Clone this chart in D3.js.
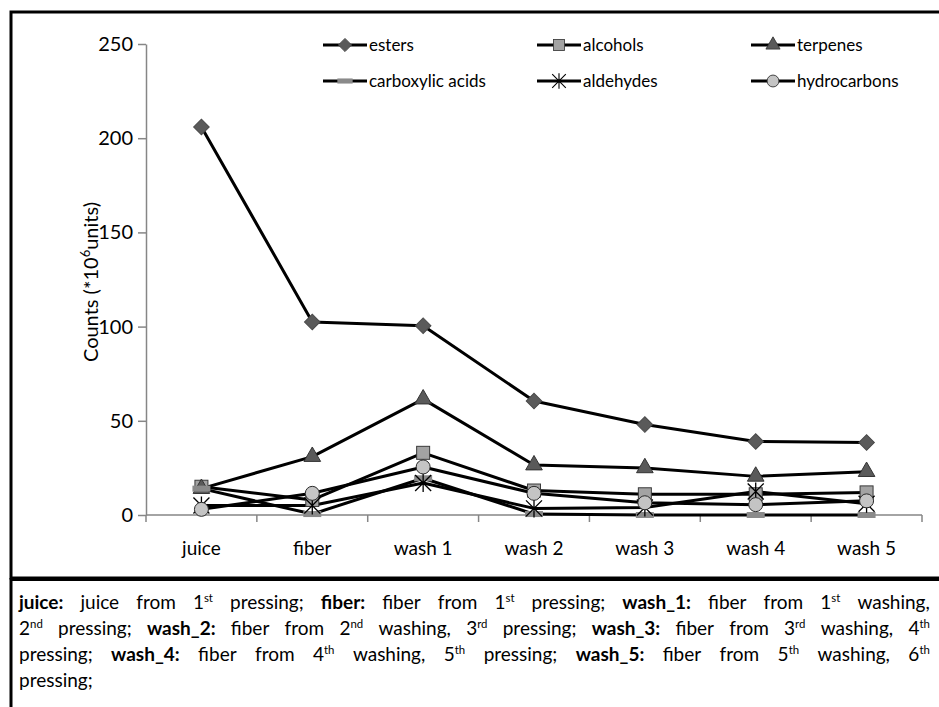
<!DOCTYPE html>
<html>
<head>
<meta charset="utf-8">
<title>Counts by fraction</title>
<script src="https://cdn.jsdelivr.net/npm/d3@7"></script>
<style>
    body { margin:0; background:#fff; font-family: Lato, 'Open Sans', sans-serif; }
    #wrap { position:relative; width:939px; height:707px; overflow:hidden; }
    svg { position:absolute; left:0; top:0; }
    .axis path, .axis line { stroke:#868686; stroke-width:1.5px; }
    .axis text { font-family: Lato, sans-serif; fill:#000; }
    .legend text { font-size:17px; fill:#000; }
    .caption { position:absolute; left:19px; top:589px; width:911px; font-size:19px; color:#000; }
    .caption .ln { display:flex; justify-content:space-between; height:26px; line-height:26px; white-space:nowrap; }
    .caption .ln.last { justify-content:flex-start; }
    .caption sup { font-size:0.6em; vertical-align:0.6em; line-height:0; }
</style>
</head>
<body>
<div id="wrap"></div>
<script>

    var width = 939,
        height = 707;

    // data
    var categories = ["juice", "fiber", "wash 1", "wash 2", "wash 3", "wash 4", "wash 5"];
    var esters          = [206, 102.5, 100.5, 60.5, 48, 39, 38.5];
    var alcohols        = [15, 8, 33, 13, 11, 11, 12];
    var terpenes        = [14, 31, 61.5, 26.5, 25, 20.5, 23];
    var carboxylicAcids = [14, 0.5, 19.5, 0.5, 0, 0, 0];
    var aldehydes       = [5, 5, 17, 3.5, 4, 12.5, 6];
    var hydrocarbons    = [3, 11.5, 25.5, 11.5, 6.5, 5.5, 7.5];
    var yTicks = [0, 50, 100, 150, 200, 250];

    var series = [
        {name: "esters", values: esters, marker: "diamond"},
        {name: "alcohols", values: alcohols, marker: "square"},
        {name: "terpenes", values: terpenes, marker: "triangle"},
        {name: "carboxylic acids", values: carboxylicAcids, marker: "dash"},
        {name: "aldehydes", values: aldehydes, marker: "star"},
        {name: "hydrocarbons", values: hydrocarbons, marker: "circle"}
    ];

    // caption: *bold*, ^superscript
    var captionLines = [
        "*juice:* juice from 1^st pressing; *fiber:* fiber from 1^st pressing; *wash_1:* fiber from 1^st washing,",
        "2^nd pressing; *wash_2:* fiber from 2^nd washing, 3^rd pressing; *wash_3:* fiber from 3^rd washing, 4^th",
        "pressing; *wash_4:* fiber from 4^th washing, 5^th pressing; *wash_5:* fiber from 5^th washing, 6^th",
        "pressing;"
    ];

    var wrap = d3.select("#wrap");
    var svg = wrap.append("svg")
        .attr("width", width)
        .attr("height", height);

    var x = d3.scaleBand().domain(categories).range([146, 922]);
    var y = d3.scaleLinear().domain([0, 250]).range([515, 44]);

    // frame
    svg.append("rect")
        .attr("x", 11).attr("y", 12)
        .attr("width", 940).attr("height", 566)
        .attr("fill", "none").attr("stroke", "#000").attr("stroke-width", 3);
    svg.append("line")
        .attr("x1", 11).attr("x2", 939).attr("y1", 579).attr("y2", 579)
        .attr("stroke", "#000").attr("stroke-width", 4);
    svg.append("line")
        .attr("x1", 11).attr("x2", 11).attr("y1", 578).attr("y2", 707)
        .attr("stroke", "#000").attr("stroke-width", 3);

    // axes
    var yAxis = svg.append("g")
        .attr("class", "axis")
        .attr("transform", "translate(146,0)")
        .call(d3.axisLeft(y).tickValues(yTicks).tickSize(8).tickPadding(5).tickSizeOuter(0));
    yAxis.selectAll("text").style("font-size", "20px");

    var xAxis = svg.append("g")
        .attr("class", "axis")
        .attr("transform", "translate(0,515)");
    xAxis.append("line")
        .attr("x1", 146).attr("x2", 922);
    xAxis.selectAll(".xt")
        .data(d3.range(categories.length + 1)).enter()
        .append("line")
        .attr("class", "xt")
        .attr("x1", function(i) { return 146 + i * x.step(); })
        .attr("x2", function(i) { return 146 + i * x.step(); })
        .attr("y1", 0).attr("y2", 7);
    xAxis.selectAll("text")
        .data(categories).enter()
        .append("text")
        .attr("x", function(d) { return x(d) + x.bandwidth() / 2; })
        .attr("y", 40)
        .attr("text-anchor", "middle")
        .style("font-size", "19px")
        .text(function(d) { return d; });

    // y title
    var yt = svg.append("text")
        .attr("transform", "translate(98,282) rotate(-90)")
        .attr("text-anchor", "middle")
        .style("font-size", "20px");
    yt.append("tspan").text("Counts (*10");
    yt.append("tspan").attr("dy", -8).style("font-size", "13px").text("6");
    yt.append("tspan").attr("dy", 8).text("units)");

    // markers
    function drawMarker(g, type) {
        if (type === "diamond") {
            g.append("rect").attr("x", -5.5).attr("y", -5.5).attr("width", 11).attr("height", 11)
                .attr("transform", "rotate(45)")
                .attr("fill", "#5a5a5a").attr("stroke", "#4a4a4a").attr("stroke-width", 1);
        } else if (type === "square") {
            g.append("rect").attr("x", -6.5).attr("y", -6.5).attr("width", 13).attr("height", 13)
                .attr("fill", "#a3a3a3").attr("stroke", "#3a3a3a").attr("stroke-width", 1);
        } else if (type === "triangle") {
            g.append("path").attr("d", d3.symbol().type(d3.symbolTriangle).size(120)())
                .attr("fill", "#5a5a5a").attr("stroke", "#333").attr("stroke-width", 1);
        } else if (type === "dash") {
            g.append("rect").attr("x", -9).attr("y", -3).attr("width", 18).attr("height", 6)
                .attr("fill", "#8a8a8a");
        } else if (type === "star") {
            g.append("path").attr("d", "M-8,-8L8,8M-8,8L8,-8M0,-9L0,9")
                .attr("stroke", "#000").attr("stroke-width", 1.3).attr("fill", "none");
        } else if (type === "circle") {
            g.append("circle").attr("r", 7)
                .attr("fill", "#c4c4c4").attr("stroke", "#2a2a2a").attr("stroke-width", 1);
        }
    }

    var line = d3.line()
        .x(function(d, i) { return x(categories[i]) + x.bandwidth() / 2; })
        .y(function(d) { return y(d); });

    var plot = svg.append("g");
    series.forEach(function(s) {
        plot.append("path")
            .datum(s.values)
            .attr("d", line)
            .attr("fill", "none")
            .attr("stroke", "#000")
            .attr("stroke-width", 3)
            .attr("stroke-linejoin", "round");
    });
    series.forEach(function(s) {
        s.values.forEach(function(v, i) {
            var g = plot.append("g")
                .attr("transform", "translate(" + (x(categories[i]) + x.bandwidth() / 2) + "," + y(v) + ")");
            drawMarker(g, s.marker);
        });
    });

    // legend
    var legend = svg.append("g").attr("class", "legend");
    series.forEach(function(s, i) {
        var lx = 323 + (i % 3) * 214,
            ly = 45 + Math.floor(i / 3) * 36;
        var g = legend.append("g").attr("transform", "translate(" + lx + "," + ly + ")");
        g.append("line").attr("x1", 0).attr("x2", 44).attr("y1", 0).attr("y2", 0)
            .attr("stroke", "#000").attr("stroke-width", 3);
        var m = g.append("g").attr("transform", "translate(22,0) scale(0.85)");
        drawMarker(m, s.marker);
        g.append("text").attr("x", 46).attr("y", 6).text(s.name);
    });

    // caption, one flex row per line so words spread like justified text
    var cap = wrap.append("div").attr("class", "caption");
    captionLines.forEach(function(str, i) {
        var row = cap.append("div").attr("class", "ln" + (i === captionLines.length - 1 ? " last" : ""));
        str.split(" ").forEach(function(w) {
            var span = row.append("span");
            if (w.charAt(0) === "*") {
                span.append("b").text(w.replace(/\*/g, ""));
            } else if (w.indexOf("^") >= 0) {
                var p = w.split("^");
                span.append("span").text(p[0]);
                span.append("sup").text(p[1]);
            } else {
                span.text(w);
            }
        });
    });

</script>
</body>
</html>
